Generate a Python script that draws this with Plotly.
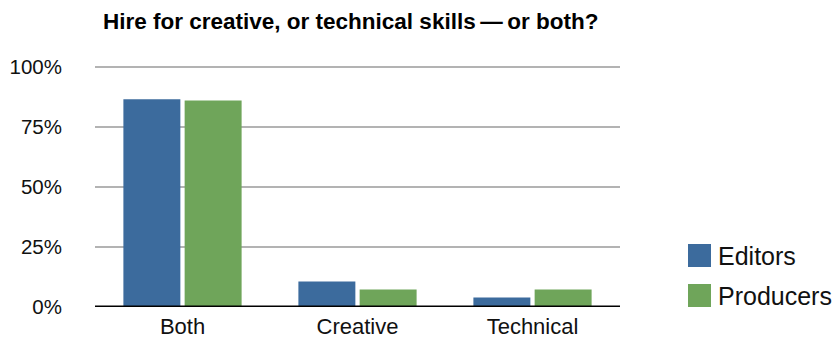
import plotly.graph_objects as go

# Survey answers: share of respondents choosing each skill emphasis
categories = ["Both", "Creative", "Technical"]
editors = [86.5, 10.6, 4.0]
producers = [86.0, 7.3, 7.3]
y_ticks = [0, 25, 50, 75, 100]
y_tick_labels = ["0%", "25%", "50%", "75%", "100%"]
series_names = ["Editors", "Producers"]
series_colors = ["#3c6b9d", "#6fa55a"]

W, H = 838, 343
M_L, M_R, M_T, M_B = 95, 218, 64, 36
FONT = "Liberation Sans, Arial, sans-serif"

fig = go.Figure()
for name, vals, col in zip(series_names, [editors, producers], series_colors):
    fig.add_trace(go.Bar(
        x=categories, y=vals, name=name,
        marker=dict(color=col, line=dict(width=0)),
        showlegend=False,
    ))

fig.update_layout(
    width=W, height=H,
    margin=dict(l=M_L, r=M_R, t=M_T, b=M_B, autoexpand=False),
    paper_bgcolor="white", plot_bgcolor="white",
    barmode="group", bargap=0.30, bargroupgap=0.07,
    font=dict(family=FONT, color="#111111"),
    xaxis=dict(
        showgrid=False, showline=False, zeroline=False,
        ticks="", tickfont=dict(size=22, color="#111111"),
        ticklabelstandoff=4,
    ),
    yaxis=dict(
        range=[0, 101.2], tickvals=y_ticks, ticktext=y_tick_labels,
        showgrid=True, gridcolor="#b3b3b3", gridwidth=2,
        zeroline=False, showline=False, ticks="",
        tickfont=dict(size=20.5, color="#111111"),
        ticklabelstandoff=32, fixedrange=True,
    ),
    showlegend=False,
)

# Heavy baseline along 0%
fig.add_shape(type="line", xref="paper", yref="y", x0=0, x1=1, y0=0, y1=0,
              line=dict(color="black", width=3), layer="above")

pw = W - M_L - M_R
ph = H - M_T - M_B
def px_x(x):
    return (x - M_L) / pw
def px_y(y):
    return (H - M_B - y) / ph

# Title
fig.add_annotation(
    text="<b>Hire for creative, or technical skills\u2009\u2014\u2009or both?</b>",
    xref="paper", yref="paper", x=px_x(350), y=px_y(22),
    xanchor="center", yanchor="middle", showarrow=False,
    font=dict(size=22.5, color="black", family=FONT),
)

# Legend drawn as large swatches with labels
for i, (name, col) in enumerate(zip(series_names, series_colors)):
    top = 244 + i * 40
    fig.add_shape(type="rect", xref="paper", yref="paper",
                  x0=px_x(688), x1=px_x(711), y0=px_y(top + 23), y1=px_y(top),
                  fillcolor=col, line=dict(width=0))
    fig.add_annotation(text=name, xref="paper", yref="paper",
                       x=px_x(716), y=px_y(top + 12), xanchor="left", yanchor="middle",
                       showarrow=False, font=dict(size=25, color="#111111", family=FONT))

fig.write_html("out.html")
